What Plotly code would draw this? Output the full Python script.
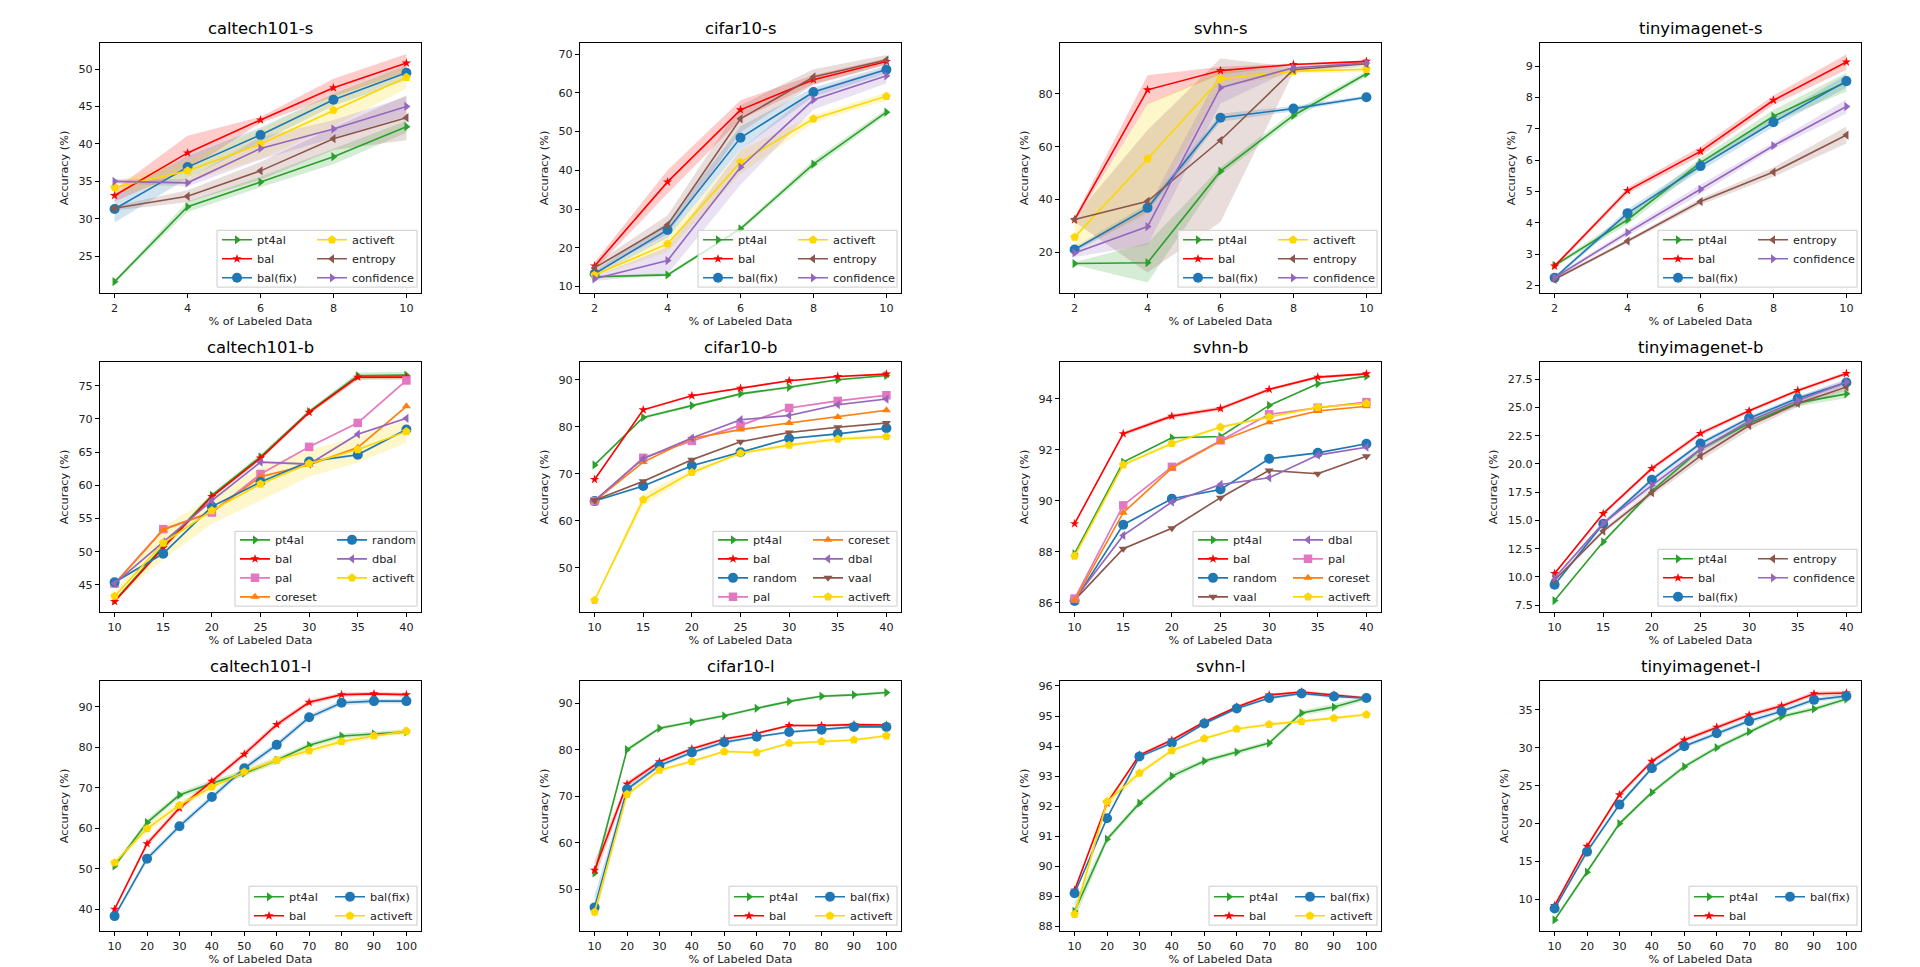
import plotly.graph_objects as go

W, H = 1920, 967
FONT = "DejaVu Sans"

# ---------------- x categories ----------------
X_S = [2, 4, 6, 8, 10]
X_B = [10, 15, 20, 25, 30, 35, 40]
X_L = [10, 20, 30, 40, 50, 60, 70, 80, 90, 100]

# ---------------- caltech101-s ----------------
caltech101_s = {
    "pt4al": [21.6, 31.6, 34.9, 38.3, 42.3],
    "bal": [33.1, 38.8, 43.2, 47.5, 50.8],
    "bal(fix)": [31.3, 36.9, 41.2, 45.9, 49.5],
    "activeft": [34.2, 36.4, 40.0, 44.5, 48.9],
    "entropy": [31.4, 33.0, 36.4, 40.7, 43.5],
    "confidence": [35.0, 34.8, 39.4, 42.0, 45.0],
}
caltech101_s_sd = {
    "pt4al": [0.2, 0.7, 0.7, 1.0, 0.8],
    "bal": [0.8, 2.3, 0.4, 1.2, 1.2],
    "bal(fix)": [1.8, 1.5, 1.0, 0.8, 1.0],
    "activeft": [0.7, 1.5, 2.0, 2.2, 1.5],
    "entropy": [0.3, 0.8, 1.2, 1.5, 3.0],
    "confidence": [0.3, 0.5, 1.5, 1.2, 1.3],
}

# ---------------- cifar10-s ----------------
cifar10_s = {
    "pt4al": [12.5, 13.0, 24.9, 41.6, 55.0],
    "bal": [15.3, 37.0, 55.6, 63.4, 68.1],
    "bal(fix)": [13.3, 24.6, 48.4, 60.2, 66.0],
    "activeft": [13.0, 21.0, 42.1, 53.3, 59.1],
    "entropy": [14.8, 25.9, 53.3, 64.1, 68.5],
    "confidence": [12.0, 16.7, 40.8, 58.2, 64.4],
}
cifar10_s_sd = {
    "pt4al": [0.3, 0.4, 0.6, 1.0, 0.8],
    "bal": [1.0, 3.0, 2.5, 1.2, 0.8],
    "bal(fix)": [0.8, 2.0, 3.0, 1.2, 1.0],
    "activeft": [0.5, 2.0, 3.0, 1.0, 1.0],
    "entropy": [1.0, 2.5, 3.5, 2.0, 1.3],
    "confidence": [0.6, 3.5, 4.5, 2.5, 2.0],
}

# ---------------- svhn-s ----------------
svhn_s = {
    "pt4al": [15.7, 16.0, 50.7, 71.8, 87.6],
    "bal": [32.3, 81.5, 88.8, 91.1, 92.3],
    "bal(fix)": [21.0, 36.8, 70.9, 74.4, 78.7],
    "activeft": [25.7, 55.4, 85.7, 88.5, 89.3],
    "entropy": [32.4, 39.3, 62.4, 89.1, 91.4],
    "confidence": [19.7, 29.7, 82.3, 89.9, 91.7],
}
svhn_s_sd = {
    "pt4al": [0.5, 7.5, 1.5, 1.5, 1.0],
    "bal": [1.0, 5.5, 1.5, 0.5, 0.4],
    "bal(fix)": [1.0, 1.5, 1.5, 1.0, 0.7],
    "activeft": [5.0, 21.0, 3.0, 1.0, 1.0],
    "entropy": [1.0, 27.0, 31.0, 1.0, 1.0],
    "confidence": [1.5, 7.0, 6.0, 0.5, 0.5],
}

# ---------------- tinyimagenet-s ----------------
tinyimagenet_s = {
    "pt4al": [2.64, 4.10, 5.92, 7.40, 8.49],
    "bal": [2.62, 5.03, 6.28, 7.91, 9.13],
    "bal(fix)": [2.25, 4.31, 5.81, 7.21, 8.52],
    "entropy": [2.20, 3.42, 4.68, 5.62, 6.80],
    "confidence": [2.25, 3.69, 5.07, 6.46, 7.71],
}
tinyimagenet_s_sd = {
    "pt4al": [0.05, 0.15, 0.15, 0.2, 0.3],
    "bal": [0.05, 0.1, 0.15, 0.15, 0.25],
    "bal(fix)": [0.05, 0.12, 0.15, 0.15, 0.2],
    "entropy": [0.05, 0.06, 0.1, 0.15, 0.27],
    "confidence": [0.05, 0.1, 0.15, 0.1, 0.22],
}

# ---------------- caltech101-b ----------------
caltech101_b = {
    "pt4al": [42.6, 50.8, 58.5, 64.3, 71.1, 76.5, 76.6],
    "bal": [42.5, 50.6, 58.3, 64.1, 71.0, 76.3, 76.3],
    "pal": [45.2, 53.4, 55.9, 61.7, 65.8, 69.4, 75.8],
    "coreset": [45.1, 53.3, 56.0, 61.3, 63.1, 65.7, 71.9],
    "random": [45.4, 49.7, 56.8, 60.5, 63.6, 64.6, 68.4],
    "dbal": [45.2, 51.5, 57.7, 63.5, 63.2, 67.7, 70.1],
    "activeft": [43.3, 51.3, 56.2, 60.2, 63.3, 65.4, 68.1],
}
caltech101_b_sd = {
    "pt4al": [0.2, 0.3, 0.3, 0.4, 0.3, 0.5, 0.5],
    "bal": [0.2, 0.3, 0.3, 0.3, 0.3, 0.4, 0.4],
    "pal": [0.2, 0.2, 0.2, 0.2, 0.2, 0.2, 0.2],
    "coreset": [0.2, 0.2, 0.2, 0.2, 0.2, 0.2, 0.2],
    "random": [0.2, 0.2, 0.2, 0.2, 0.2, 0.2, 0.2],
    "dbal": [0.2, 0.2, 0.2, 0.2, 0.2, 0.2, 0.2],
    "activeft": [0.6, 2.5, 2.0, 2.5, 2.0, 2.0, 1.7],
}

# ---------------- cifar10-b ----------------
cifar10_b = {
    "pt4al": [71.9, 82.0, 84.5, 87.0, 88.4, 90.0, 90.9],
    "bal": [68.8, 83.6, 86.6, 88.2, 89.8, 90.7, 91.2],
    "random": [64.2, 67.4, 71.7, 74.6, 77.5, 78.5, 79.7],
    "pal": [64.2, 73.4, 77.0, 80.3, 84.0, 85.5, 86.7],
    "coreset": [64.2, 72.5, 77.5, 79.4, 80.8, 82.1, 83.5],
    "dbal": [64.3, 73.2, 77.6, 81.5, 82.4, 84.7, 85.9],
    "vaal": [64.4, 68.4, 73.0, 76.8, 78.8, 79.9, 80.8],
    "activeft": [43.1, 64.5, 70.3, 74.4, 76.1, 77.4, 77.9],
}
cifar10_b_sd = {
    "pt4al": [0.2, 0.3, 0.3, 0.3, 0.3, 0.2, 0.2],
    "bal": [0.2, 0.3, 0.2, 0.2, 0.2, 0.2, 0.2],
    "random": [0.2, 0.2, 0.2, 0.2, 0.2, 0.2, 0.2],
    "pal": [0.2, 0.2, 0.2, 0.3, 0.2, 0.2, 0.2],
    "coreset": [0.2, 0.2, 0.2, 0.2, 0.2, 0.2, 0.2],
    "dbal": [0.2, 0.2, 0.2, 0.2, 0.2, 0.2, 0.2],
    "vaal": [0.2, 0.2, 0.2, 0.2, 0.2, 0.2, 0.2],
    "activeft": [0.2, 1.3, 0.6, 0.4, 0.5, 0.5, 0.5],
}

# ---------------- svhn-b ----------------
svhn_b = {
    "pt4al": [87.92, 91.52, 92.47, 92.52, 93.74, 94.59, 94.89],
    "bal": [89.10, 92.63, 93.32, 93.62, 94.37, 94.85, 94.98],
    "random": [86.07, 89.06, 90.08, 90.44, 91.65, 91.88, 92.24],
    "vaal": [86.10, 88.12, 88.92, 90.12, 91.19, 91.06, 91.75],
    "dbal": [86.13, 88.64, 89.95, 90.64, 90.90, 91.79, 92.10],
    "pal": [86.16, 89.82, 91.33, 92.37, 93.39, 93.65, 93.87],
    "coreset": [86.10, 89.53, 91.28, 92.34, 93.08, 93.52, 93.71],
    "activeft": [87.83, 91.41, 92.25, 92.89, 93.29, 93.67, 93.82],
}
svhn_b_sd = {
    "pt4al": [0.03, 0.03, 0.03, 0.03, 0.03, 0.03, 0.03],
    "bal": [0.03, 0.08, 0.08, 0.08, 0.06, 0.06, 0.05],
    "random": [0.03, 0.03, 0.03, 0.03, 0.03, 0.03, 0.03],
    "vaal": [0.03, 0.03, 0.03, 0.03, 0.03, 0.03, 0.03],
    "dbal": [0.03, 0.03, 0.03, 0.03, 0.03, 0.03, 0.03],
    "pal": [0.03, 0.03, 0.03, 0.03, 0.03, 0.03, 0.03],
    "coreset": [0.03, 0.03, 0.03, 0.03, 0.03, 0.03, 0.03],
    "activeft": [0.03, 0.07, 0.07, 0.05, 0.05, 0.05, 0.05],
}

# ---------------- tinyimagenet-b ----------------
tinyimagenet_b = {
    "pt4al": [7.9, 13.1, 17.6, 21.3, 23.6, 25.4, 26.2],
    "bal": [10.3, 15.6, 19.6, 22.7, 24.7, 26.5, 28.0],
    "bal(fix)": [9.3, 14.7, 18.6, 21.8, 24.05, 25.8, 27.2],
    "entropy": [9.7, 14.05, 17.45, 20.7, 23.4, 25.35, 26.8],
    "confidence": [9.9, 14.75, 18.1, 21.3, 23.8, 25.6, 27.25],
}
tinyimagenet_b_sd = {
    "pt4al": [0.1, 0.1, 0.2, 0.2, 0.2, 0.3, 0.4],
    "bal": [0.1, 0.15, 0.2, 0.2, 0.15, 0.15, 0.15],
    "bal(fix)": [0.1, 0.2, 0.2, 0.2, 0.2, 0.2, 0.2],
    "entropy": [0.1, 0.2, 0.3, 0.4, 0.4, 0.3, 0.3],
    "confidence": [0.1, 0.2, 0.3, 0.3, 0.3, 0.3, 0.3],
}

# ---------------- caltech101-l ----------------
caltech101_l = {
    "pt4al": [50.7, 61.4, 68.2, 71.1, 73.6, 76.8, 80.5, 82.8, 83.3, 83.8],
    "bal": [40.0, 56.2, 65.0, 71.6, 78.3, 85.6, 91.1, 93.0, 93.2, 93.0],
    "bal(fix)": [38.3, 52.5, 60.5, 67.7, 74.8, 80.6, 87.4, 91.0, 91.4, 91.4],
    "activeft": [51.5, 59.9, 65.7, 70.2, 73.9, 76.8, 79.2, 81.4, 82.8, 84.0],
}
caltech101_l_sd = {
    "pt4al": [0.6, 0.8, 0.7, 0.8, 0.7, 0.7, 0.6, 0.6, 0.6, 0.5],
    "bal": [0.5, 0.7, 0.7, 0.6, 0.7, 0.7, 0.6, 0.5, 0.5, 0.5],
    "bal(fix)": [0.5, 0.8, 0.7, 0.7, 0.8, 0.7, 0.7, 0.6, 0.6, 0.6],
    "activeft": [0.6, 1.0, 0.9, 0.9, 0.9, 0.9, 0.8, 0.8, 0.7, 0.7],
}

# ---------------- cifar10-l ----------------
cifar10_l = {
    "pt4al": [53.5, 80.0, 84.6, 86.0, 87.3, 88.9, 90.4, 91.5, 91.8, 92.3],
    "bal": [54.1, 72.6, 77.4, 80.2, 82.3, 83.5, 85.2, 85.2, 85.4, 85.3],
    "bal(fix)": [46.1, 71.5, 76.6, 79.4, 81.6, 82.8, 83.8, 84.3, 84.9, 84.9],
    "activeft": [45.1, 70.4, 75.6, 77.5, 79.6, 79.4, 81.4, 81.8, 82.1, 83.0],
}
cifar10_l_sd = {
    "pt4al": [1.0, 0.5, 0.4, 0.3, 0.3, 0.3, 0.3, 0.3, 0.3, 0.3],
    "bal": [2.0, 0.6, 0.4, 0.4, 0.3, 0.3, 0.3, 0.3, 0.3, 0.3],
    "bal(fix)": [2.6, 0.6, 0.5, 0.4, 0.4, 0.3, 0.3, 0.3, 0.3, 0.3],
    "activeft": [1.6, 0.6, 0.5, 0.4, 0.3, 0.3, 0.3, 0.3, 0.3, 0.3],
}

# ---------------- svhn-l ----------------
svhn_l = {
    "pt4al": [88.5, 90.9, 92.1, 93.0, 93.5, 93.8, 94.1, 95.1, 95.3, 95.6],
    "bal": [89.2, 92.1, 93.7, 94.2, 94.8, 95.3, 95.7, 95.8, 95.7, 95.6],
    "bal(fix)": [89.1, 91.6, 93.65, 94.1, 94.75, 95.25, 95.6, 95.75, 95.65, 95.6],
    "activeft": [88.4, 92.15, 93.1, 93.85, 94.25, 94.57, 94.72, 94.82, 94.93, 95.05],
}
svhn_l_sd = {
    "pt4al": [0.28, 0.1, 0.1, 0.1, 0.08, 0.08, 0.08, 0.08, 0.1, 0.08],
    "bal": [0.05, 0.05, 0.05, 0.05, 0.05, 0.05, 0.05, 0.05, 0.05, 0.05],
    "bal(fix)": [0.05, 0.05, 0.05, 0.05, 0.05, 0.05, 0.05, 0.05, 0.05, 0.05],
    "activeft": [0.15, 0.25, 0.1, 0.06, 0.06, 0.06, 0.06, 0.06, 0.06, 0.06],
}

# ---------------- tinyimagenet-l ----------------
tinyimagenet_l = {
    "pt4al": [7.3, 13.6, 20.0, 24.1, 27.5, 30.0, 32.1, 34.1, 35.1, 36.4],
    "bal": [9.2, 17.0, 23.8, 28.2, 31.0, 32.7, 34.3, 35.5, 37.1, 37.2],
    "bal(fix)": [8.8, 16.3, 22.5, 27.3, 30.2, 31.9, 33.5, 34.8, 36.3, 36.8],
}
tinyimagenet_l_sd = {
    "pt4al": [0.2, 0.3, 0.3, 0.3, 0.3, 0.3, 0.3, 0.3, 0.3, 0.3],
    "bal": [0.2, 0.3, 0.3, 0.3, 0.3, 0.3, 0.3, 0.3, 0.3, 0.3],
    "bal(fix)": [0.2, 0.3, 0.3, 0.3, 0.3, 0.3, 0.3, 0.3, 0.3, 0.3],
}

# ---------------- y tick labels ----------------
YT_C101_S = [25, 30, 35, 40, 45, 50]
YT_C10_S = [10, 20, 30, 40, 50, 60, 70]
YT_SVHN_S = [20, 40, 60, 80]
YT_TINY_S = [2, 3, 4, 5, 6, 7, 8, 9]
YT_C101_B = [45, 50, 55, 60, 65, 70, 75]
YT_C10_B = [50, 60, 70, 80, 90]
YT_SVHN_B = [86, 88, 90, 92, 94]
YT_TINY_B = [7.5, 10.0, 12.5, 15.0, 17.5, 20.0, 22.5, 25.0, 27.5]
YT_C101_L = [40, 50, 60, 70, 80, 90]
YT_C10_L = [50, 60, 70, 80, 90]
YT_SVHN_L = [88, 89, 90, 91, 92, 93, 94, 95, 96]
YT_TINY_L = [10, 15, 20, 25, 30, 35]

# ---------------- styles ----------------
STYLE = {
    "pt4al": ("#2ca02c", "triangle-right", 8),
    "bal": ("#ff0000", "star", 7),
    "bal(fix)": ("#1f77b4", "circle", 10),
    "random": ("#1f77b4", "circle", 10),
    "activeft": ("#ffd700", "pentagon", 9),
    "entropy": ("#8c564b", "triangle-left", 8),
    "vaal": ("#8c564b", "triangle-down", 8),
    "confidence": ("#9467bd", "triangle-right", 8),
    "dbal": ("#9467bd", "triangle-left", 8),
    "pal": ("#e377c2", "square", 8.5),
    "coreset": ("#ff7f0e", "triangle-up", 8),
}


def rgba(hx, a):
    hx = hx.lstrip("#")
    return "rgba(%d,%d,%d,%s)" % (int(hx[0:2], 16), int(hx[2:4], 16), int(hx[4:6], 16), a)


XR_S = [1.6, 10.4]
XR_B = [8.5, 41.5]
XR_L = [5.5, 104.5]

PANELS = [
    ("caltech101-s", X_S, caltech101_s, caltech101_s_sd, [20.07, 53.5], YT_C101_S, "", XR_S),
    ("cifar10-s", X_S, cifar10_s, cifar10_s_sd, [8.3, 72.9], YT_C10_S, "", XR_S),
    ("svhn-s", X_S, svhn_s, svhn_s_sd, [4.5, 99.3], YT_SVHN_S, "", XR_S),
    ("tinyimagenet-s", X_S, tinyimagenet_s, tinyimagenet_s_sd, [1.76, 9.74], YT_TINY_S, "", XR_S),
    ("caltech101-b", X_B, caltech101_b, caltech101_b_sd, [40.9, 78.6], YT_C101_B, "", XR_B),
    ("cifar10-b", X_B, cifar10_b, cifar10_b_sd, [40.6, 93.8], YT_C10_B, "", XR_B),
    ("svhn-b", X_B, svhn_b, svhn_b_sd, [85.63, 95.45], YT_SVHN_B, "", XR_B),
    ("tinyimagenet-b", X_B, tinyimagenet_b, tinyimagenet_b_sd, [6.88, 29.03], YT_TINY_B, ".1f", XR_B),
    ("caltech101-l", X_L, caltech101_l, caltech101_l_sd, [34.6, 96.4], YT_C101_L, "", XR_L),
    ("cifar10-l", X_L, cifar10_l, cifar10_l_sd, [41.0, 94.8], YT_C10_L, "", XR_L),
    ("svhn-l", X_L, svhn_l, svhn_l_sd, [87.84, 96.17], YT_SVHN_L, "", XR_L),
    ("tinyimagenet-l", X_L, tinyimagenet_l, tinyimagenet_l_sd, [5.83, 38.8], YT_TINY_L, "", XR_L),
]

# layout geometry (pixels)
AX_LEFT = [100, 580, 1060, 1540]
AX_TOP = [42, 362, 682]
AX_W, AX_H = 321, 251
# legend frame: left, top, right, bottom, offset of 2nd column
LEG_BOX = [
    (217, 230, 417, 287, 100), (698, 230, 897, 287, 100),
    (1178, 230, 1377, 287, 100), (1658, 230, 1857, 287, 100),
    (235, 532, 417, 607, 102), (713, 532, 897, 607, 100),
    (1193, 532, 1377, 607, 100), (1658, 550, 1857, 607, 100),
    (249, 888, 417, 927, 86), (729, 888, 897, 927, 86),
    (1209, 888, 1377, 927, 86), (1689, 888, 1857, 927, 86),
]
LEG_DY = {2: -4, 3: -5, 4: -6}

fig = go.Figure()
layout = dict(
    width=W, height=H, margin=dict(l=0, r=0, t=0, b=0),
    paper_bgcolor="white", plot_bgcolor="white",
    font=dict(family=FONT, color="#222"), showlegend=True,
)
shapes, annotations = [], []

axis_common = dict(
    showline=True, mirror=True, linecolor="black", linewidth=1,
    ticks="outside", ticklen=4, tickwidth=1, tickcolor="black",
    showgrid=False, zeroline=False,
    tickfont=dict(family=FONT, size=11.2, color="#222"),
)

for i, (title, xs, means, sds, yr, yt, yfmt, xr) in enumerate(PANELS):
    r, c = divmod(i, 4)
    sfx = "" if i == 0 else str(i + 1)
    xa, ya = "x" + sfx, "y" + sfx
    names = list(means)
    ncol1 = (len(names) + 1) // 2
    lg1 = "legend" if i == 0 else "legend%d" % (2 * i + 1)
    lg2 = "legend%d" % (2 * i + 2)

    for n in names:
        m, s = means[n], sds[n]
        up = [a + b for a, b in zip(m, s)]
        lo = [a - b for a, b in zip(m, s)]
        fig.add_trace(go.Scatter(
            x=xs + xs[::-1], y=up + lo[::-1], fill="toself",
            fillcolor=rgba(STYLE[n][0], 0.2), line=dict(width=0), mode="lines",
            hoverinfo="skip", showlegend=False, xaxis=xa, yaxis=ya))
    for k, n in enumerate(names):
        col, sym, size = STYLE[n]
        fig.add_trace(go.Scatter(
            x=xs, y=means[n], mode="lines+markers", name=n,
            line=dict(color=col, width=1.6),
            marker=dict(symbol=sym, size=size, color=col, line=dict(width=0)),
            xaxis=xa, yaxis=ya, legend=lg1 if k < ncol1 else lg2))

    x0 = AX_LEFT[c] / W
    x1 = (AX_LEFT[c] + AX_W) / W
    y1 = 1 - AX_TOP[r] / H
    y0 = 1 - (AX_TOP[r] + AX_H) / H
    layout["xaxis" + sfx] = dict(
        domain=[x0, x1], range=xr, tickvals=xs, anchor=ya,
        title=dict(text="% of Labeled Data", font=dict(family=FONT, size=11.3, color="#222"), standoff=3),
        **axis_common)
    ycfg = dict(
        domain=[y0, y1], range=yr, tickvals=yt, anchor=xa,
        title=dict(text="Accuracy (%)", font=dict(family=FONT, size=11.3, color="#222"), standoff=7),
        **axis_common)
    if yfmt:
        ycfg["tickformat"] = yfmt
    layout["yaxis" + sfx] = ycfg

    annotations.append(dict(
        text=title, x=(x0 + x1) / 2, y=y1, xref="paper", yref="paper",
        xanchor="center", yanchor="bottom", yshift=3, showarrow=False,
        font=dict(family=FONT, size=16.4, color="black")))

    bl, bt, br, bb, off = LEG_BOX[i]
    shapes.append(dict(
        type="rect", xref="paper", yref="paper",
        x0=bl / W, x1=br / W, y0=1 - bb / H, y1=1 - bt / H,
        fillcolor="rgba(255,255,255,0.8)", line=dict(color="#cccccc", width=1),
        layer="above"))
    leg_common = dict(
        bgcolor="rgba(0,0,0,0)", borderwidth=0, orientation="v",
        font=dict(family=FONT, size=11.3, color="#222"),
        xanchor="left", yanchor="top", tracegroupgap=0, itemwidth=30)
    dy = LEG_DY[ncol1]
    layout[lg1] = dict(x=bl / W, y=1 - (bt + dy) / H, **leg_common)
    layout[lg2] = dict(x=(bl + off - 5) / W, y=1 - (bt + dy) / H, **leg_common)

layout["shapes"] = shapes
layout["annotations"] = annotations
fig.update_layout(**layout)

fig.write_html("out.html", config={"displayModeBar": False},
               post_script="document.body.style.margin='0';")
